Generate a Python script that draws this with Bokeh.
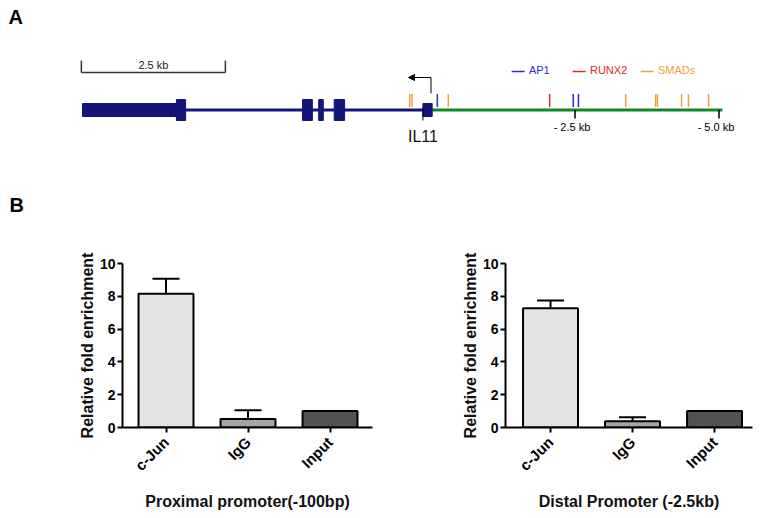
import math
from bokeh.plotting import figure
from bokeh.layouts import column, row
from bokeh.models import (Range1d, ColumnDataSource, Whisker, TeeHead, Arrow,
                          NormalHead, FixedTicker)
from bokeh.embed import file_html
from bokeh.resources import INLINE
from bokeh.core.properties import value

# ---------------- data: IL11 locus (kb upstream of the TSS; negative = gene body)
exon_start = [-6.05, -4.42, -2.23, -1.95, -1.68, -0.14]
exon_end = [-4.42, -4.26, -2.06, -1.87, -1.50, 0.02]
exon_kind = ["utr", "cds", "cds", "cds", "cds", "utr"]
gene_left = -6.05
tss = 0.0
promoter_end = 5.06
ap1_sites = [0.11, 2.47, 2.56]
runx2_sites = [2.06]
smad_sites = [-0.37, -0.33, 0.30, 3.38, 3.90, 3.93, 4.35, 4.47, 4.82]
motif_names = ["AP1", "RUNX2", "SMADs"]
scale_ticks = [2.5, 5.0]
scale_labels = ["- 2.5 kb", "- 5.0 kb"]
scale_bar_kb = 2.5
scale_bar_label = "2.5 kb"
gene_name = "IL11"

# ---------------- data: ChIP-qPCR
groups = ["c-Jun", "IgG", "Input"]
prox_mean = [8.15, 0.52, 1.0]
prox_err = [0.92, 0.53, 0.0]
dist_mean = [7.27, 0.38, 1.0]
dist_err = [0.47, 0.25, 0.0]
y_ticks = [0, 2, 4, 6, 8, 10]

# ---------------- styles
FONT = "Liberation Sans"
NAVY = "#14147a"
GREEN = "#13882a"
BLUE = "#2b2bd6"
RED = "#d82c2c"
ORANGE = "#f0a236"
BAR_COLORS = ["#e3e3e3", "#a5a5a5", "#525252"]

# ================= Panel A: gene map =================
pa = figure(width=764, height=230, x_range=Range1d(-7.474, 5.790),
            y_range=Range1d(-120.5, 109.5), x_axis_location=None,
            y_axis_location=None, output_backend="svg", toolbar_location=None,
            min_border=0, outline_line_color=None)
pa.grid.visible = False

# gene body line and promoter line
pa.segment(x0=[gene_left], y0=[0], x1=[tss], y1=[0], line_color=NAVY, line_width=3)
pa.segment(x0=[tss], y0=[0], x1=[promoter_end], y1=[0], line_color=GREEN, line_width=3)

half = {"utr": 6.5, "cds": 10.5}
pa.quad(left=exon_start, right=exon_end,
        top=[half[k] for k in exon_kind], bottom=[-half[k] for k in exon_kind],
        fill_color=NAVY, line_color=NAVY)

# motif ticks
for sites, col in ((ap1_sites, BLUE), (runx2_sites, RED), (smad_sites, ORANGE)):
    pa.segment(x0=sites, y0=[3] * len(sites), x1=sites, y1=[16] * len(sites),
               line_color=col, line_width=1.5)

# small mark below first exon
pa.segment(x0=[exon_start[-1]], y0=[2.5], x1=[exon_start[-1]], y1=[-10.5],
           line_color="black", line_width=1)

# TSS arrow
pa.segment(x0=[tss], y0=[16.5], x1=[tss], y1=[32.5], line_color="black", line_width=1)
pa.add_layout(Arrow(end=NormalHead(size=6, fill_color="black", line_color="black"),
                    x_start=tss, y_start=32.5, x_end=-0.39, y_end=32.5,
                    line_color="black", line_width=1))

# scale ticks along promoter
pa.segment(x0=scale_ticks, y0=[0] * 2, x1=scale_ticks, y1=[-8.5] * 2,
           line_color="black", line_width=1.5)
pa.text(x=scale_ticks, y=[-16.5] * 2, text=scale_labels, x_offset=-3,
        text_font=value(FONT), text_font_size="11px", text_align="center",
        text_baseline="middle", text_color="black")

# gene name
pa.text(x=[exon_start[-1]], y=[-26.5], text=[gene_name], text_font=value(FONT),
        text_font_size="16px", text_align="center", text_baseline="middle",
        text_color="#111111")

# scale bar
sb0 = -6.07
sb1 = sb0 + scale_bar_kb
pa.segment(x0=[sb0, sb0, sb1], y0=[37.5, 37.5, 37.5], x1=[sb1, sb0, sb1],
           y1=[37.5, 49.5, 49.5], line_color="#333333", line_width=1.5)
pa.text(x=[(sb0 + sb1) / 2], y=[45.5], text=[scale_bar_label], text_font=value(FONT),
        text_font_size="11px", text_align="center", text_baseline="middle",
        text_color="#222222")

# motif legend
leg_x = [1.40, 2.46, 3.64]
leg_cols = [BLUE, RED, ORANGE]
pa.segment(x0=leg_x, y0=[38.5] * 3, x1=[v + 0.226 for v in leg_x], y1=[38.5] * 3,
           line_color=leg_cols, line_width=1.5)
pa.text(x=[v + 0.30 for v in leg_x], y=[40.0] * 3, text=motif_names,
        text_font=value(FONT), text_font_size="11px", text_align="left",
        text_baseline="middle", text_color=leg_cols)

# panel letters
pa.text(x=[-7.335, -7.318], y=[93.5, -94.5], text=["A", "B"], text_font=value(FONT),
        text_font_size="20px", text_font_style="bold", text_align="left",
        text_baseline="middle", text_color="black")


# ================= Panel B: bar charts =================
def bar_panel(title, means, errs, width, xr, mb_left, mb_right):
    xs = list(range(1, len(groups) + 1))
    src = ColumnDataSource(dict(x=xs, m=means, up=[m + e for m, e in zip(means, errs)],
                                color=BAR_COLORS))
    p = figure(width=width, height=288, x_range=Range1d(*xr), y_range=Range1d(0, 10),
               output_backend="svg", toolbar_location=None,
               min_border_left=mb_left, min_border_right=mb_right,
               min_border_top=33, min_border_bottom=91, outline_line_color=None)
    p.grid.visible = False
    p.vbar(x="x", top="m", bottom=0, width=0.67, source=src, fill_color="color",
           line_color="black", line_width=2)
    p.add_layout(Whisker(source=src, base="x", lower="m", upper="up",
                         upper_head=TeeHead(size=27, line_width=2, line_color="black"),
                         lower_head=None, line_width=2, line_color="black"))
    for ax in (p.xaxis, p.yaxis):
        ax.axis_line_width = 2
        ax.axis_line_color = "black"
        ax.major_tick_line_width = 2
        ax.major_tick_line_color = "black"
        ax.major_tick_out = 5
        ax.major_tick_in = 0
        ax.minor_tick_line_color = None
        ax.major_label_text_font = FONT
        ax.major_label_text_font_style = "bold"
        ax.major_label_text_color = "black"
        ax.axis_label_text_font = FONT
        ax.axis_label_text_font_style = "bold"
        ax.axis_label_text_font_size = "16px"
        ax.axis_label_text_color = "#111111"
    p.yaxis.major_label_text_font_size = "14px"
    p.xaxis.major_label_text_font_size = "15px"
    p.yaxis.ticker = FixedTicker(ticks=y_ticks)
    p.yaxis.major_label_standoff = 2
    p.yaxis.axis_label = "Relative fold enrichment"
    p.yaxis.axis_label_standoff = 1
    p.xaxis.ticker = FixedTicker(ticks=xs)
    p.xaxis.major_label_overrides = {x: g for x, g in zip(xs, groups)}
    p.xaxis.major_label_orientation = math.pi / 4
    p.xaxis.major_label_standoff = 7
    p.xaxis.axis_label = title
    p.xaxis.axis_label_standoff = 10
    return p


pl = bar_panel("Proximal promoter(-100bp)", prox_mean, prox_err, 440,
               (0.4695, 3.518), 122, 68)
pr = bar_panel("Distal Promoter (-2.5kb)", dist_mean, dist_err, 324,
               (0.451, 3.463), 65, 12)

layout = column(pa, row(pl, pr))
open("out.html", "w").write(file_html(layout, INLINE))
